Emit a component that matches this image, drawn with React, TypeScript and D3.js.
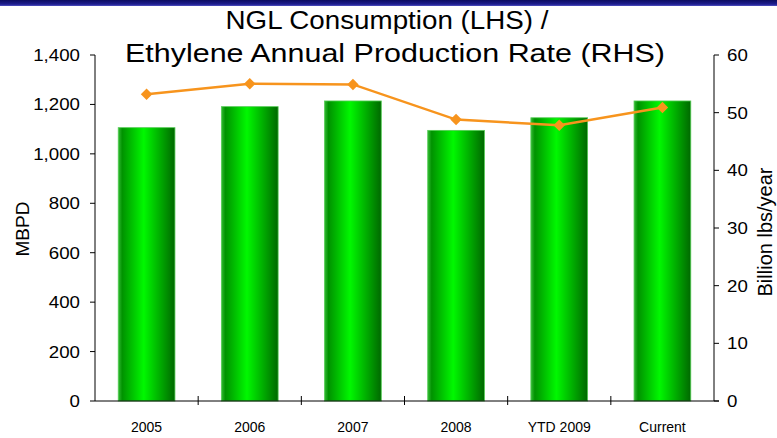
import React from "react";
import * as d3 from "d3";

const categories = ["2005", "2006", "2007", "2008", "YTD 2009", "Current"];
const nglConsumption = [1106, 1191, 1214, 1095, 1146, 1214];
const ethyleneRate = [53.2, 55.0, 54.9, 48.8, 47.8, 50.9];
const leftTicks = [0, 200, 400, 600, 800, 1000, 1200, 1400];
const rightTicks = [0, 10, 20, 30, 40, 50, 60];

const W = 777;
const H = 438;
const left = 95;
const right = 714;
const top = 55;
const bottom = 401;

function T({ x, y, size, anchor = "start", children, sx = 1.1, len }: any) {
  return (
    <text
      transform={`translate(${x},${y}) scale(${sx},1)`}
      textAnchor={anchor}
      fontSize={size}
      fill="#000"
      textLength={len}
      lengthAdjust={len ? "spacingAndGlyphs" : undefined}
    >
      {children}
    </text>
  );
}

export default function App() {
  const x = d3.scaleBand<string>().domain(categories).range([left, right]).paddingInner(0.45).paddingOuter(0.225);
  const xb = d3.scaleBand<string>().domain(categories).range([left, right]);
  const yL = d3.scaleLinear().domain([0, 1400]).range([bottom, top]);
  const yR = d3.scaleLinear().domain([0, 60]).range([bottom, top]);
  const cx = (c: string) => (xb(c) as number) + xb.bandwidth() / 2;
  const line = d3
    .line<number>()
    .x((_, i) => cx(categories[i]))
    .y((d) => yR(d));
  const marker = d3.symbol().type(d3.symbolSquare).size(66)();
  const font = "'Liberation Sans', Arial, sans-serif";
  const fmt = d3.format(",");
  const boundaries = categories.slice(1).map((c) => xb(c) as number);

  return (
    <svg width={W} height={H} style={{ position: "absolute", left: 0, top: 0, background: "#fff" }} fontFamily={font}>
      <defs>
        <linearGradient id="bar" x1="0" x2="1" y1="0" y2="0">
          <stop offset="0%" stopColor="#33bb33" />
          <stop offset="7%" stopColor="#009200" />
          <stop offset="45%" stopColor="#00f800" />
          <stop offset="100%" stopColor="#006800" />
        </linearGradient>
        <linearGradient id="topbar" x1="0" x2="0" y1="0" y2="1">
          <stop offset="0%" stopColor="#0c0c60" />
          <stop offset="70%" stopColor="#1e1e90" />
          <stop offset="100%" stopColor="#5050c0" />
        </linearGradient>
      </defs>
      <rect x={0} y={0} width={W} height={H} fill="#fff" />
      <rect x={0} y={0} width={W} height={6} fill="url(#topbar)" />

      <T x={387} y={29} size={26} anchor="middle" sx={1} len={323}>NGL Consumption (LHS) /</T>
      <T x={395} y={62} size={26} anchor="middle" sx={1} len={540}>Ethylene Annual Production Rate (RHS)</T>

      {categories.map((c, i) => (
        <rect
          key={c}
          x={x(c)}
          y={yL(nglConsumption[i])}
          width={x.bandwidth()}
          height={bottom - yL(nglConsumption[i])}
          fill="url(#bar)"
          stroke="#55cc55"
          strokeWidth={0.8}
        />
      ))}

      {/* left axis */}
      <line x1={left} x2={left} y1={top} y2={bottom} stroke="#000" />
      {leftTicks.map((t) => (
        <g key={t}>
          <line x1={left - 5} x2={left} y1={yL(t)} y2={yL(t)} stroke="#000" />
          <T x={left - 15} y={yL(t) + 6} size={17} anchor="end">{fmt(t)}</T>
        </g>
      ))}

      {/* right axis */}
      <line x1={right} x2={right} y1={top} y2={bottom} stroke="#000" />
      {rightTicks.map((t) => (
        <g key={t}>
          <line x1={right} x2={right + 5} y1={yR(t)} y2={yR(t)} stroke="#000" />
          <T x={right + 13} y={yR(t) + 6} size={17} anchor="start">{t}</T>
        </g>
      ))}

      {/* bottom axis */}
      <line x1={left} x2={right + 5} y1={bottom} y2={bottom} stroke="#000" />
      {boundaries.map((b, i) => (
        <line key={i} x1={b} x2={b} y1={bottom - 5} y2={bottom + 4} stroke="#000" />
      ))}
      {categories.map((c) => (
        <T key={c} x={cx(c)} y={432} size={14} anchor="middle" sx={1.0}>{c}</T>
      ))}

      <path d={line(ethyleneRate) || ""} fill="none" stroke="#f7941d" strokeWidth={2.5} />
      {ethyleneRate.map((v, i) => (
        <path
          key={i}
          d={marker || ""}
          transform={`translate(${cx(categories[i])},${yR(v)}) rotate(45)`}
          fill="#f7941d"
        />
      ))}

      <text transform={`translate(29,229) rotate(-90)`} textAnchor="middle" fontSize={19} fill="#000">
        MBPD
      </text>
      <text transform={`translate(772,232) rotate(-90)`} textAnchor="middle" fontSize={20} fill="#000">
        Billion lbs/year
      </text>
    </svg>
  );
}
